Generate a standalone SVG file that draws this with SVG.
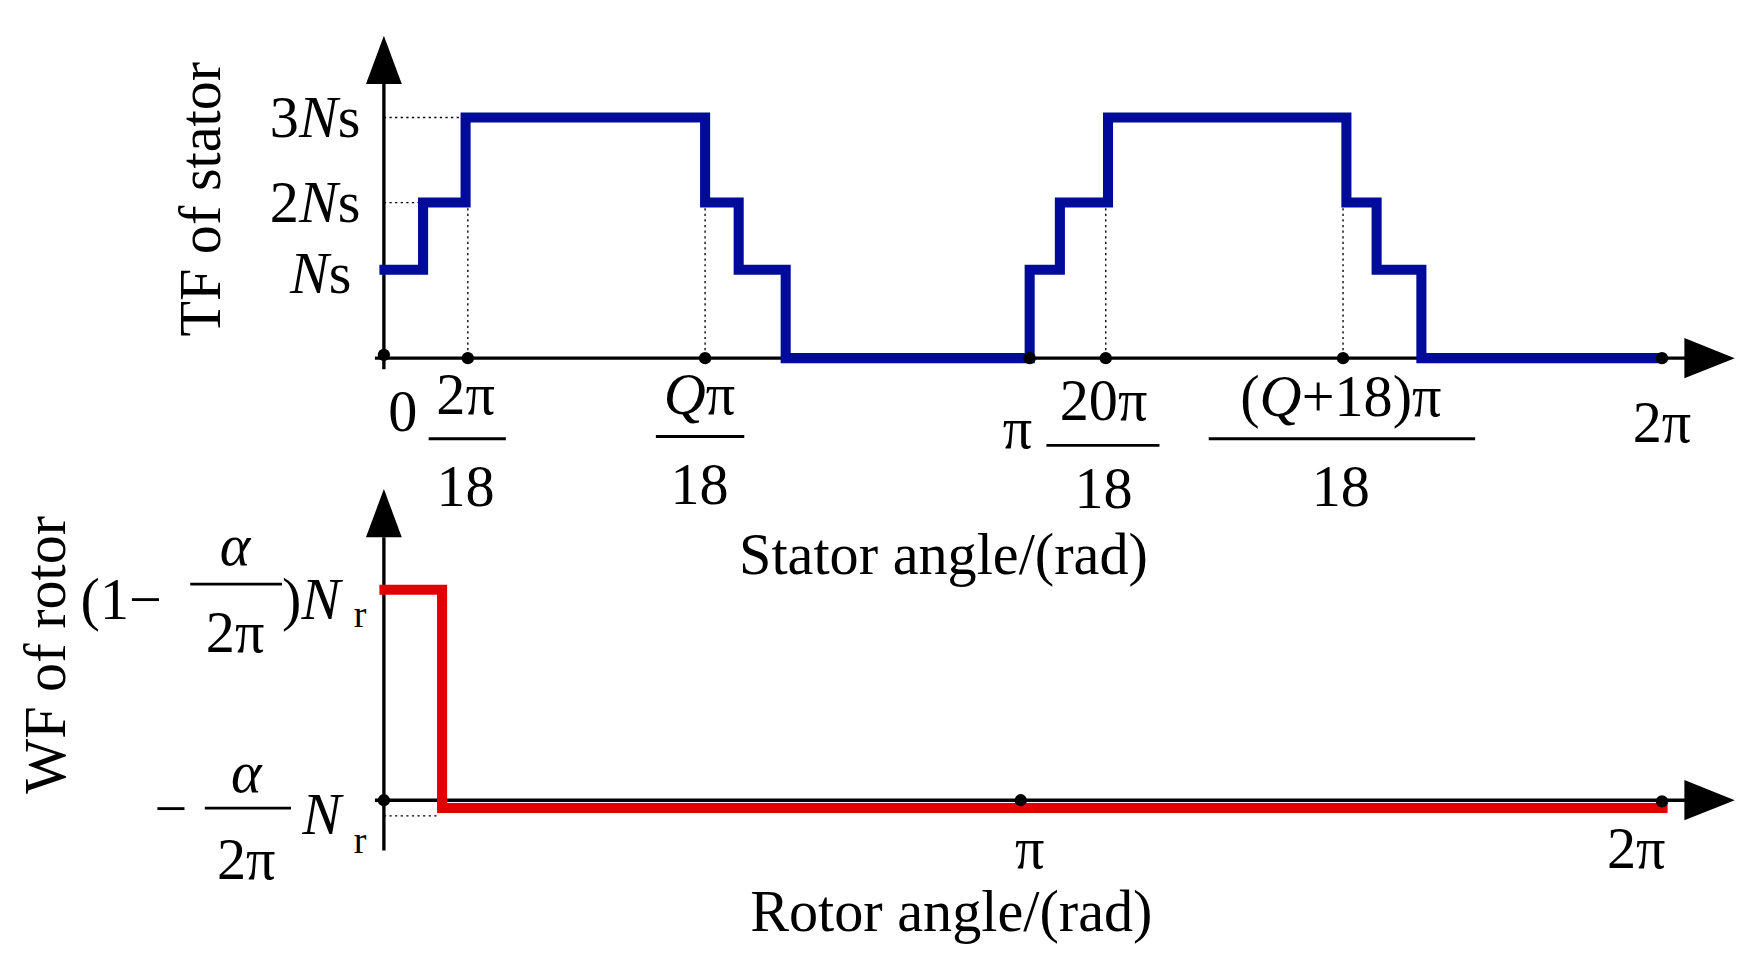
<svg xmlns="http://www.w3.org/2000/svg" width="1746" height="953" viewBox="0 0 1746 953">
<defs>
<style>
text{font-family:"Liberation Serif","DejaVu Serif",serif;font-size:52px;fill:#000}
.i{font-style:italic}
.ax{stroke:#000;stroke-width:3;fill:none}
.dot{stroke:#000;stroke-width:1.2;stroke-dasharray:2,3;fill:none}
.fl{stroke:#000;stroke-width:2.5}
</style>
</defs>
<rect width="1746" height="953" fill="#fff"/>
<g transform="scale(1.1192)">
<g id="connectors">
<line class="ax" x1="343" y1="330" x2="343" y2="75"/>
<path d="M327,75 L343,32 L359,75 z"/>
<line class="ax" x1="335" y1="320" x2="1510" y2="320"/>
<path d="M1505,302 L1550,320 L1505,338 z"/>
<line class="dot" x1="343" y1="105" x2="416" y2="105"/>
<line class="dot" x1="343" y1="181" x2="378" y2="181"/>
<line class="dot" x1="418" y1="181" x2="418" y2="320"/>
<line class="dot" x1="630" y1="181" x2="630" y2="320"/>
<line class="dot" x1="988" y1="181" x2="988" y2="320"/>
<line class="dot" x1="1200" y1="181" x2="1200" y2="320"/>
<polyline fill="none" stroke="#000c99" stroke-width="9" points="339,241 378,241 378,181 416,181 416,105 630,105 630,181 660,181 660,241 702,241 702,320 920,320 920,241 947,241 947,181 990,181 990,105 1203,105 1203,181 1230,181 1230,241 1270,241 1270,320 1485,320"/>
<g fill="#000"><circle cx="343" cy="317" r="5.5"/><circle cx="418" cy="320" r="5.5"/><circle cx="630" cy="320" r="5.5"/><circle cx="920" cy="320" r="5.5"/><circle cx="988" cy="320" r="5.5"/><circle cx="1200" cy="320" r="5.5"/><circle cx="1485" cy="320" r="5.5"/></g>

<line class="ax" x1="343" y1="760" x2="343" y2="480"/>
<path d="M327,480 L343,437 L359,480 z"/>
<line class="ax" x1="335" y1="715" x2="1510" y2="715"/>
<path d="M1505,697 L1550,715 L1505,733 z"/>
<line class="dot" x1="343" y1="729" x2="392" y2="729"/>
<polyline fill="none" stroke="#e00000" stroke-width="9" points="339,527 395,527 395,722 1490,722"/>
<g fill="#000"><circle cx="343" cy="715" r="5.5"/><circle cx="912" cy="715" r="5.5"/><circle cx="1485" cy="716" r="5.5"/></g>
</g>
<g id="labels-top">
<text transform="translate(197,178) rotate(-90)" text-anchor="middle">TF of stator</text>
<text x="322" y="122" text-anchor="end">3<tspan class="i">N</tspan>s</text>
<text x="322" y="198" text-anchor="end">2<tspan class="i">N</tspan>s</text>
<text x="314" y="262" text-anchor="end"><tspan class="i">N</tspan>s</text>
<text x="360" y="385" text-anchor="middle">0</text>
<text x="416" y="370" text-anchor="middle">2π</text><line class="fl" x1="383" y1="392" x2="452" y2="392"/><text x="416" y="452" text-anchor="middle">18</text>
<text x="625" y="370" text-anchor="middle"><tspan class="i">Q</tspan>π</text><line class="fl" x1="586" y1="390" x2="665" y2="390"/><text x="625" y="450" text-anchor="middle">18</text>
<text x="909" y="400" text-anchor="middle">π</text>
<text x="986" y="375" text-anchor="middle">20π</text><line class="fl" x1="935" y1="398" x2="1036" y2="398"/><text x="986" y="454" text-anchor="middle">18</text>
<text x="1198" y="372" text-anchor="middle">(<tspan class="i">Q</tspan>+18)π</text><line class="fl" x1="1080" y1="392" x2="1318" y2="392"/><text x="1198" y="452" text-anchor="middle">18</text>
<text x="843" y="513" text-anchor="middle">Stator angle/(rad)</text>
<text x="1485" y="395" text-anchor="middle">2π</text>
</g>
<g id="labels-bottom">
<text transform="translate(58,585) rotate(-90)" text-anchor="middle">WF of rotor</text>
<text x="72" y="553">(1−</text>
<text x="210" y="505" text-anchor="middle" class="i">α</text><line class="fl" x1="170" y1="522" x2="252" y2="522"/><text x="210" y="583" text-anchor="middle">2π</text>
<text x="252" y="553">)<tspan class="i">N</tspan></text><text x="316" y="560" style="font-size:34px">r</text>
<text x="138" y="740">−</text>
<text x="220" y="708" text-anchor="middle" class="i">α</text><line class="fl" x1="183" y1="722" x2="260" y2="722"/><text x="220" y="785" text-anchor="middle">2π</text>
<text x="270" y="745" class="i">N</text><text x="316" y="762" style="font-size:34px">r</text>
<text x="920" y="776" text-anchor="middle">π</text>
<text x="1462" y="776" text-anchor="middle">2π</text>
<text x="850" y="832" text-anchor="middle">Rotor angle/(rad)</text>
</g>
</g>
</svg>
